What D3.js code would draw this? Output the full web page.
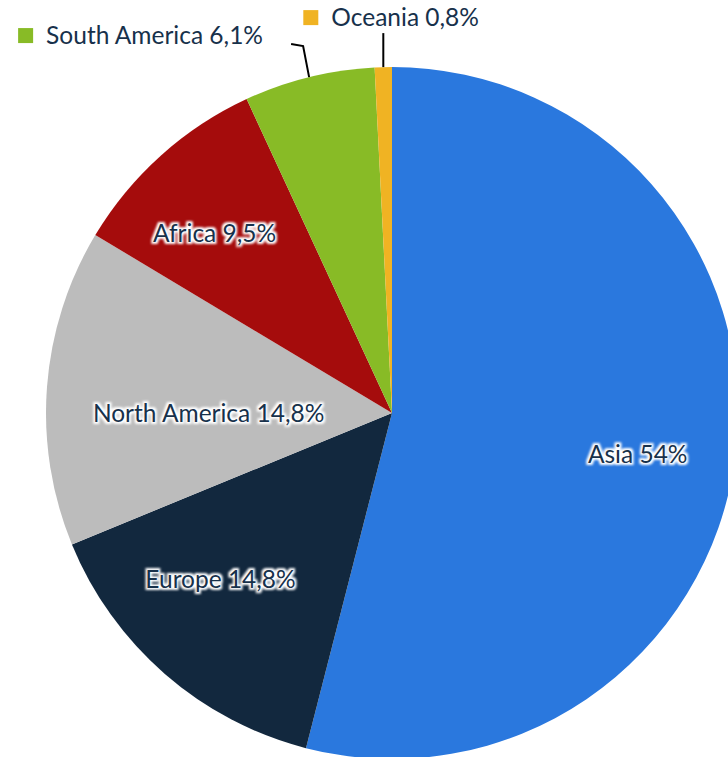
<!DOCTYPE html>
<html>
<head>
<meta charset="utf-8">
<script src="https://cdn.jsdelivr.net/npm/d3@7"></script>
<style>
  html, body { margin: 0; padding: 0; background: #fff; }
  #chart { width: 728px; height: 757px; overflow: hidden; }
</style>
</head>
<body>
<div id="chart"></div>
<script>
// Datos del gráfico (porcentaje por continente)
const regiones = ["Asia", "Europe", "North America", "Africa", "South America", "Oceania"];
const valores = [54, 14.8, 14.8, 9.5, 6.1, 0.8];
const etiquetas = ["54%", "14,8%", "14,8%", "9,5%", "6,1%", "0,8%"];
const colores = ["#2a78de", "#12283e", "#bcbcbc", "#a50c0c", "#88bb26", "#f0b323"];

const data = regiones.map((r, i) => ({ region: r, valor: valores[i], etiqueta: etiquetas[i] }));

// Lienzo
const width = 728, height = 757;
const cx = 392, cy = 413, radius = 346;
const textColor = "#17314b";
const fontFam = "Lato, 'Open Sans', sans-serif";
const fontSize = 24.5;

const svg = d3.select("#chart").append("svg")
    .attr("width", width)
    .attr("height", height);

// Filtro para el halo blanco de las etiquetas
const defs = svg.append("defs");
const glow = defs.append("filter").attr("id", "halo")
    .attr("x", "-10%").attr("y", "-30%").attr("width", "120%").attr("height", "160%");
glow.append("feMorphology").attr("in", "SourceAlpha").attr("operator", "dilate").attr("radius", 1.8).attr("result", "d");
glow.append("feGaussianBlur").attr("in", "d").attr("stdDeviation", 1.2).attr("result", "b");
glow.append("feFlood").attr("flood-color", "#fff");
glow.append("feComposite").attr("in2", "b").attr("operator", "in");

const g = svg.append("g").attr("transform", `translate(${cx},${cy})`);

const color = d3.scaleOrdinal().domain(regiones).range(colores);

const pie = d3.pie().value(d => d.valor).sort(null);
const arc = d3.arc().innerRadius(0).outerRadius(radius);
const arcs = pie(data);

// Porciones
g.selectAll("path.slice")
    .data(arcs)
    .join("path")
    .attr("class", "slice")
    .attr("d", arc)
    .attr("fill", d => color(d.data.region));

// Etiquetas interiores (ajuste de radio por etiqueta, estilo "mejor ajuste")
const ajusteRadio = { "Asia": 0.72, "Europe": 0.69, "North America": 0.53, "Africa": 0.73 };
const ajusteAngulo = { "Asia": 0.04, "Europe": 0.085, "North America": -0.075, "Africa": -0.047 };

const interiores = arcs.filter(d => ajusteRadio[d.data.region] !== undefined);
const pos = d => {
    const a = (d.startAngle + d.endAngle) / 2 + ajusteAngulo[d.data.region];
    const rr = radius * ajusteRadio[d.data.region];
    return [Math.sin(a) * rr, -Math.cos(a) * rr];
};

const lbl = g.selectAll("g.lbl")
    .data(interiores)
    .join("g")
    .attr("class", "lbl")
    .attr("transform", d => `translate(${pos(d)})`);

lbl.append("text")
    .attr("filter", "url(#halo)")
    .attr("text-anchor", "middle")
    .attr("dy", "0.35em")
    .attr("font-family", fontFam)
    .attr("font-size", fontSize)
    .text(d => `${d.data.region} ${d.data.etiqueta}`);

lbl.append("text")
    .attr("text-anchor", "middle")
    .attr("dy", "0.35em")
    .attr("fill", textColor)
    .attr("font-family", fontFam)
    .attr("font-size", fontSize)
    .text(d => `${d.data.region} ${d.data.etiqueta}`);

// Etiquetas exteriores con líneas guía (porciones pequeñas)
const exteriores = arcs.filter(d => ajusteRadio[d.data.region] === undefined);
const edge = d => {
    const a = (d.startAngle + d.endAngle) / 2;
    return [Math.sin(a) * radius, -Math.cos(a) * radius];
};

// Puntos de la guía relativos al borde de la porción
const guias = {
    "South America": d => { const [x, y] = edge(d); return [[x, y], [x - 6, y - 31], [x - 18, y - 33]]; },
    "Oceania": d => { const [x, y] = edge(d); return [[x, y], [x, y - 34]]; }
};
const cajas = {
    "South America": d => { const [x, y] = edge(d); return [x - 291, y - 49]; },
    "Oceania": d => { const [x, y] = edge(d); return [x - 80, y - 57]; }
};

g.selectAll("path.guia")
    .data(exteriores)
    .join("path")
    .attr("class", "guia")
    .attr("d", d => d3.line()(guias[d.data.region](d)))
    .attr("fill", "none")
    .attr("stroke", "#000")
    .attr("stroke-width", 2);

const ext = g.selectAll("g.ext")
    .data(exteriores)
    .join("g")
    .attr("class", "ext")
    .attr("transform", d => `translate(${cajas[d.data.region](d)})`);

ext.append("rect")
    .attr("width", 15)
    .attr("height", 15)
    .attr("fill", d => color(d.data.region));

ext.append("text")
    .attr("x", 28)
    .attr("y", 7.5)
    .attr("dy", "0.35em")
    .attr("fill", textColor)
    .attr("font-family", fontFam)
    .attr("font-size", fontSize)
    .text(d => `${d.data.region} ${d.data.etiqueta}`);
</script>
</body>
</html>
